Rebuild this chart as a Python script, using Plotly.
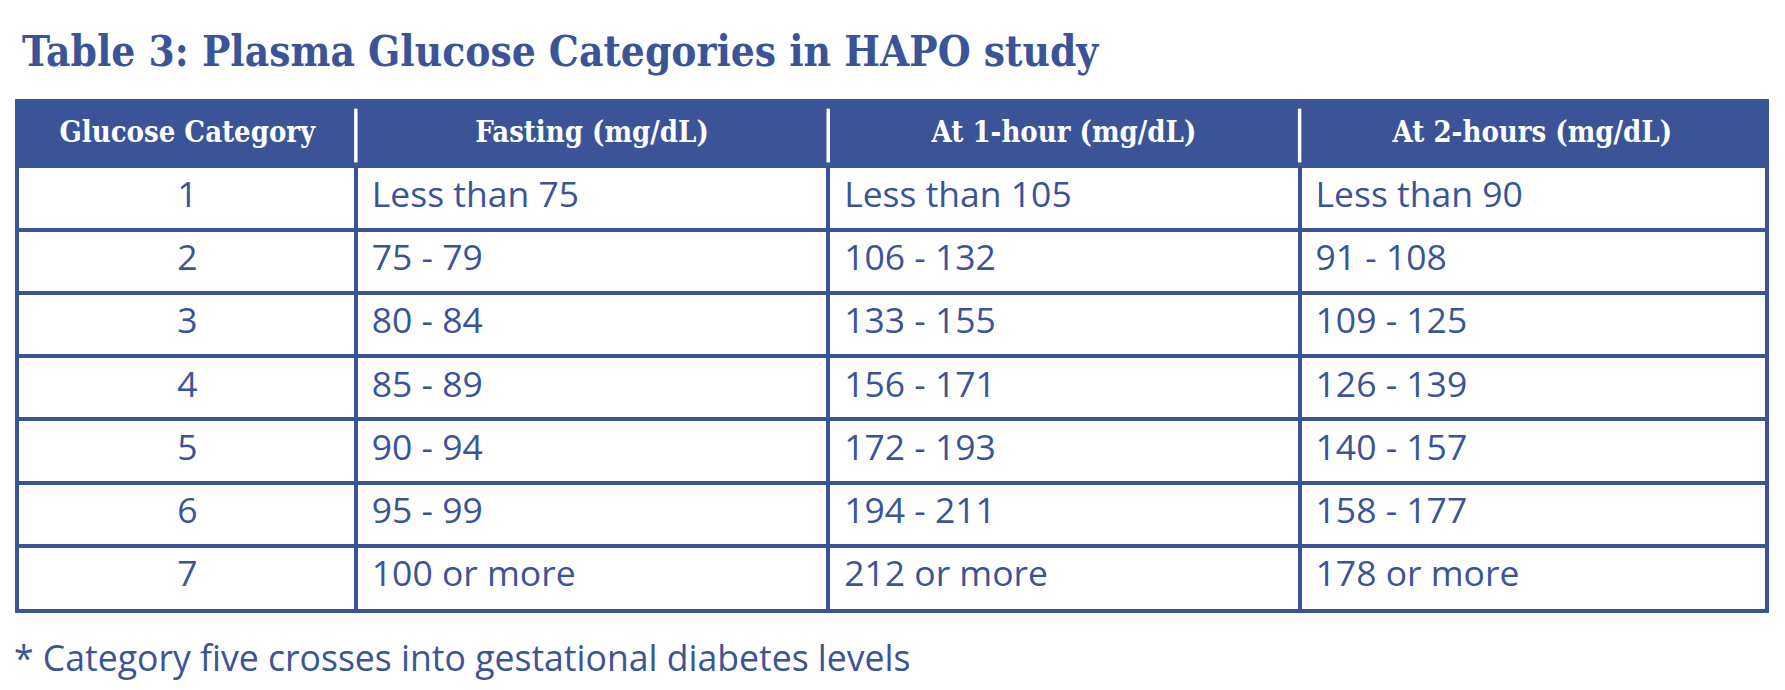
import plotly.graph_objects as go

# table content
headers = ["Glucose Category", "Fasting (mg/dL)", "At 1-hour (mg/dL)", "At 2-hours (mg/dL)"]
category = ["1", "2", "3", "4", "5", "6", "7"]
fasting = ["Less than 75", "75 - 79", "80 - 84", "85 - 89", "90 - 94", "95 - 99", "100 or more"]
one_hour = ["Less than 105", "106 - 132", "133 - 155", "156 - 171", "172 - 193", "194 - 211", "212 or more"]
two_hours = ["Less than 90", "91 - 108", "109 - 125", "126 - 139", "140 - 157", "158 - 177", "178 or more"]

title = "Table 3: Plasma Glucose Categories in HAPO study"
note = "* Category five crosses into gestational diabetes levels"

W, H = 1785, 690
blue = "#3b5498"
col_w = [338, 474, 473, 467]
edges = [0]
for w in col_w:
    edges.append(edges[-1] + w)
pad = 16
n_rows = len(category)

body_font = dict(family="Open Sans", size=35.5, color=blue)
slab = "DejaVu Serif Condensed"

fig = go.Figure()

# header labels
fig.add_trace(go.Scatter(
    x=[(edges[i] + edges[i + 1]) / 2 for i in range(len(headers))],
    y=[0.5] * len(headers),
    text=headers, mode="text", textposition="middle center",
    textfont=dict(family=slab, size=29, color="white", weight="bold"),
    hoverinfo="skip", showlegend=False,
))

# body cells, first column centred, the rest left aligned
for i, col in enumerate([category, fasting, one_hour, two_hours]):
    if i == 0:
        xs = [(edges[0] + edges[1]) / 2] * n_rows
        pos = "middle center"
    else:
        xs = [edges[i] + pad] * n_rows
        pos = "middle right"
    fig.add_trace(go.Scatter(
        x=xs, y=[r + 1.5 for r in range(n_rows)],
        text=col, mode="text", textposition=pos, textfont=body_font,
        hoverinfo="skip", showlegend=False,
    ))

# header band and its white separators
fig.add_shape(type="rect", xref="x", yref="y", x0=0, x1=edges[-1], y0=0, y1=1,
              fillcolor=blue, line_width=0, layer="between")
for e in edges[1:-1]:
    fig.add_shape(type="line", xref="x", yref="y", x0=e, x1=e, y0=0.09, y1=0.94,
                  line=dict(color="white", width=3.5), layer="between")

fig.add_annotation(text=title, xref="paper", yref="paper", x=20 / W, y=1 - 51 / H,
                   xanchor="left", yanchor="middle", showarrow=False,
                   font=dict(family=slab, size=42, color=blue, weight="bold"))
fig.add_annotation(text=note, xref="paper", yref="paper", x=12 / W, y=1 - 657 / H,
                   xanchor="left", yanchor="middle", showarrow=False,
                   font=dict(family="Open Sans", size=35.6, color=blue))

grid = dict(showgrid=True, gridcolor=blue, gridwidth=3.5, zeroline=False,
            showticklabels=False, ticks="", showline=True, mirror=True,
            linecolor=blue, linewidth=3.5, fixedrange=True)
fig.update_xaxes(range=[0, edges[-1]], domain=[19 / W, 1765 / W], tickvals=edges, **grid)
fig.update_yaxes(range=[n_rows + 1, 0], domain=[1 - 609 / H, 1 - 103 / H],
                 tickvals=list(range(1, n_rows + 2)), **grid)

fig.update_layout(width=W, height=H, margin=dict(l=0, r=0, t=0, b=0),
                  paper_bgcolor="white", plot_bgcolor="white")
fig.write_html("out.html", config={"displayModeBar": False},
               post_script="document.body.style.margin='0';")
